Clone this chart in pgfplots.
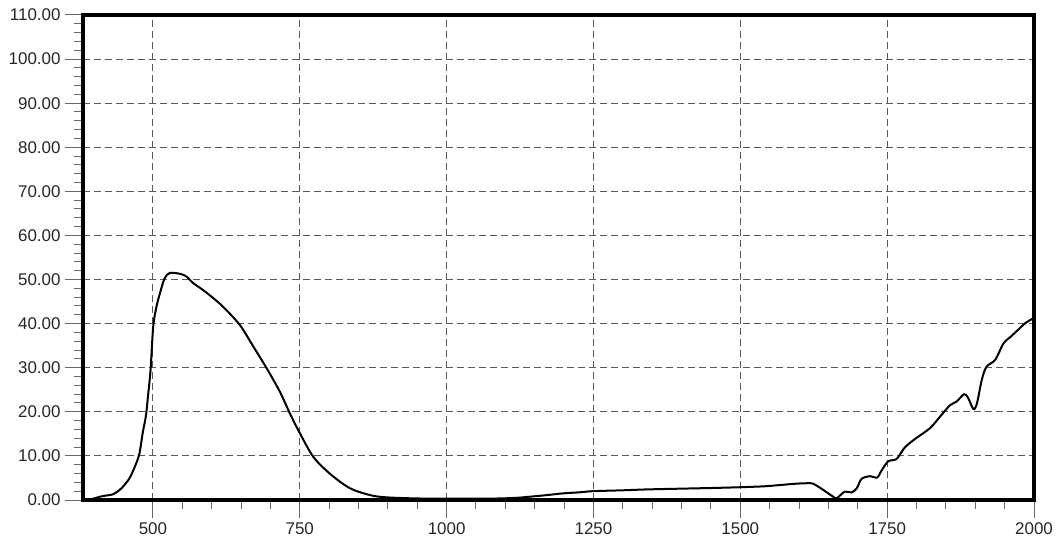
\documentclass[border=0pt]{standalone}
\usepackage{pgfplots}
\pgfplotsset{compat=1.18}
\usepackage{fontspec}
\setmainfont{Liberation Sans}
\newcommand{\tfont}{\fontsize{17}{20}\selectfont}
\begin{document}
\begin{tikzpicture}
\path[use as bounding box] (-83bp,-44bp) rectangle (976bp,500bp);
\begin{axis}[
  scale only axis,
  width=951bp, height=485bp,
  xmin=381, xmax=2000,
  ymin=0, ymax=110,
  xtick={500,750,1000,1250,1500,1750,2000},
  ytick={0,10,20,30,40,50,60,70,80,90,100,110},
  minor x tick num=4,
  minor y tick num=4,
  tick align=outside,
  major tick length=18bp,
  minor tick length=9bp,
  every tick/.style={black!60, line width=1bp},
  xtick pos=bottom, ytick pos=left,
  axis line style={line width=3.5bp, black},
  grid=major,
  major grid style={black!65, line width=1.1bp, dash pattern=on 7bp off 4bp},
  /pgf/number format/assume math mode=true,
  tick label style={font=\tfont, text=black!85},
  yticklabel={\tfont\pgfmathprintnumber[fixed, fixed zerofill, precision=2]{\tick}},
  xticklabel={\tfont\pgfmathprintnumber[fixed, precision=0, 1000 sep={}]{\tick}},
  yticklabel style={xshift=-1bp},
  xticklabel style={yshift=-1bp},
  clip=true,
]
\addplot[black, line width=2bp, smooth, tension=0.5] coordinates {
(398,0.3) (415,0.9) (432,1.3) (446,2.6) (460,4.9) (470,7.8) (477,10.5)
(483,15.5) (488,19.0) (492,24.0) (496,29.5) (500.5,39.3) (506,43.8) (512,46.9) (520,50.3)
(529,51.5) (546,51.3) (557,50.7) (568.6,49.2) (585.6,47.6) (602.6,45.8)
(619.7,43.8) (648,39.7) (671,34.8) (693.6,29.9) (716,24.6) (733,19.7)
(750,15.2) (773,9.8) (801,6.0) (835,2.7) (870,1.1) (898,0.6)
(950,0.35) (1005,0.3) (1050,0.3) (1091,0.35) (1120,0.5) (1142,0.75)
(1170,1.1) (1198,1.5) (1227,1.75) (1249,2.0) (1300,2.2) (1341,2.4)
(1409,2.6) (1460,2.75) (1500,2.9) (1540,3.1) (1568,3.4) (1595,3.7)
(1613,3.8) (1624,3.7) (1641,2.3) (1658,0.75) (1664,0.4) (1678,1.9) (1689,1.7)
(1698,2.6) (1706.5,4.8) (1721,5.4) (1733,5.1) (1741,6.8) (1752,8.8)
(1766,9.3) (1780,11.9) (1797,13.8) (1823,16.3) (1840,18.9) (1857,21.5)
(1868,22.3) (1881,24.0) (1888,23.1) (1897,20.6) (1903,22.0) (1911,27.2)
(1919,30.2) (1934,31.8) (1948,35.5) (1960,37.0) (1973,38.6) (1985,40.1)
(1996,41.0) (2000,41.3)
};
\end{axis}
\end{tikzpicture}
\end{document}
